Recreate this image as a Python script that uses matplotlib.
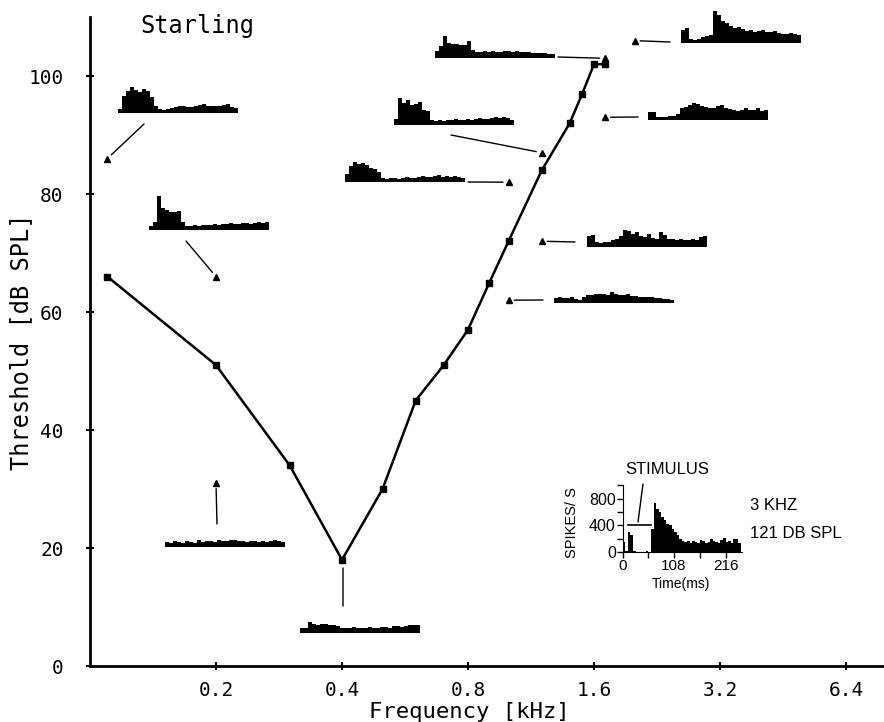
import numpy as np
import matplotlib
matplotlib.use('Agg')
import matplotlib.pyplot as plt

# tuning curve: threshold vs. frequency
freq = [0.11, 0.2, 0.3, 0.4, 0.5, 0.6, 0.7, 0.8, 0.9, 1.0, 1.2, 1.4, 1.5, 1.6, 1.7]
thresh = [66, 51, 34, 18, 30, 45, 51, 57, 65, 72, 84, 92, 97, 102, 102]

# stimulus points (triangles) where the PSTHs were recorded
stim_f = [0.11, 0.2, 0.2, 1.0, 1.2, 1.7, 1.2, 1.0, 1.7, 2.0]
stim_db = [86, 66, 31, 82, 87, 103, 72, 62, 93, 106]

xtick_vals = [0.2, 0.4, 0.8, 1.6, 3.2, 6.4]
xtick_labels = ['0.2', '0.4', '0.8', '1.6', '3.2', '6.4']
ytick_vals = [0, 20, 40, 60, 80, 100]

# small PSTHs (30 bins each, arbitrary rate units)
psth_a = [4, 17, 22, 26, 23, 21, 24, 22, 16, 7, 4, 3, 4, 5, 6, 7, 7, 6, 6, 7, 8, 9, 7, 7, 7, 7, 8, 9, 6, 5]
psth_b = [4, 8, 34, 22, 20, 18, 18, 19, 8, 4, 4, 5, 4, 5, 5, 5, 6, 5, 6, 6, 7, 6, 6, 7, 7, 6, 7, 8, 7, 8]
psth_c = [5, 4, 6, 5, 4, 6, 5, 4, 7, 5, 6, 6, 5, 7, 6, 6, 7, 7, 6, 6, 5, 6, 6, 5, 6, 5, 6, 7, 6, 5]
psth_d = [5, 5, 11, 9, 8, 9, 9, 8, 8, 7, 5, 5, 5, 6, 5, 5, 5, 6, 5, 5, 6, 6, 5, 7, 7, 6, 7, 8, 8, 8]
psth_e = [8, 16, 20, 18, 19, 17, 14, 13, 10, 4, 3, 4, 4, 3, 4, 5, 4, 4, 5, 6, 5, 5, 6, 7, 5, 6, 5, 6, 5, 4]
psth_f = [6, 27, 22, 25, 20, 21, 23, 15, 14, 5, 4, 5, 4, 5, 5, 6, 5, 5, 6, 5, 6, 7, 6, 6, 7, 8, 7, 8, 7, 5]
psth_g = [7, 12, 22, 15, 14, 14, 13, 13, 17, 8, 6, 6, 7, 6, 7, 6, 6, 7, 7, 6, 7, 6, 6, 6, 5, 5, 5, 5, 4, 4]
psth_h = [11, 12, 5, 4, 5, 5, 7, 8, 11, 17, 16, 13, 15, 11, 10, 13, 9, 8, 15, 12, 8, 8, 7, 8, 7, 7, 8, 7, 10, 11]
psth_i = [5, 6, 5, 5, 6, 4, 3, 6, 8, 8, 9, 9, 9, 8, 11, 9, 8, 8, 9, 7, 7, 6, 6, 6, 6, 5, 5, 4, 4, 3]
psth_j = [8, 8, 3, 3, 3, 4, 4, 6, 12, 13, 15, 17, 16, 14, 13, 12, 12, 14, 15, 12, 11, 10, 9, 10, 12, 10, 10, 12, 9, 10]
psth_k = [13, 15, 4, 3, 4, 6, 7, 8, 32, 28, 22, 20, 17, 15, 16, 14, 12, 13, 11, 12, 13, 11, 11, 12, 10, 9, 9, 10, 9, 8]

# example PSTH (3 kHz, 121 dB SPL), 5.4 ms bins
ex_bin = 5.4
ex_rate = [150, 20, 300, 250, 10, 0, 0, 0, 0, 10, 0,
           350, 740, 650, 600, 520, 480, 420, 400, 350, 300, 250, 200, 170, 150,
           160, 140, 170, 150, 130, 180, 160, 140, 150, 200, 170, 150, 130, 180,
           210, 150, 160, 130, 190, 200, 140]
stim_window = [12, 60]
stim_level = 400

W, H = 884, 722
fig = plt.figure(figsize=(W / 100, H / 100), dpi=100)
mono = 'DejaVu Sans Mono'
sans = 'Liberation Sans'

ax = fig.add_axes([90 / W, 56 / H, 794 / W, 649 / H])
ax.set_xscale('log', base=2)
ax.set_xlim(0.1, 0.1 * 2 ** (794 / 126))
ax.set_ylim(0, 110)
ax.plot(freq, thresh, color='k', lw=1.8, marker='s', ms=4)
ax.plot(stim_f, stim_db, ls='none', marker='^', ms=5, color='k')

ax.set_xticks(xtick_vals)
ax.set_xticklabels(xtick_labels, family=mono, fontsize=14)
ax.xaxis.set_minor_locator(matplotlib.ticker.NullLocator())
ax.set_yticks(ytick_vals)
ax.set_yticklabels([str(v) for v in ytick_vals], family=mono, fontsize=14)
ax.tick_params(direction='inout', length=6, width=1.5)
ax.tick_params(axis='y', pad=16)
ax.tick_params(axis='x', pad=8)
for s in ['top', 'right']:
    ax.spines[s].set_visible(False)
for s in ['left', 'bottom']:
    ax.spines[s].set_linewidth(2)

fig.text(21 / W, 1 - 342 / H, 'Threshold [dB SPL]', rotation=90, ha='center', va='center',
         family=mono, fontsize=17)
fig.text(469 / W, 1 - 712 / H, 'Frequency [kHz]', ha='center', va='center',
         family=mono, fontsize=16)
fig.text(140 / W, 1 - 26 / H, 'Starling', ha='left', va='center', family=mono, fontsize=17)

# small PSTH placement: (data, left px, baseline px)
panels = [(psth_a, 118, 113), (psth_b, 149, 230), (psth_c, 165, 547), (psth_d, 300, 633),
          (psth_e, 345, 182), (psth_f, 394, 125), (psth_g, 435, 58), (psth_h, 587, 247),
          (psth_i, 554, 303), (psth_j, 648, 120), (psth_k, 681, 43)]
for vals, x0, yb in panels:
    pa = fig.add_axes([x0 / W, (H - yb) / H, 120 / W, 40 / H])
    pa.bar(np.arange(len(vals)), vals, width=1.0, align='edge', color='k', lw=0)
    pa.set_xlim(0, len(vals))
    pa.set_ylim(0, 40)
    pa.axis('off')

# leader lines from PSTHs to their stimulus points (start in figure pixels)
leaders = [((144, 124), 0), ((186, 241), 1), ((217, 524), 2), ((468, 182), 3),
           ((451, 135), 4), ((558, 57), 5), ((575, 242), 6), ((543, 300), 7),
           ((638, 117), 8), ((670, 42), 9)]
for (px, py), k in leaders:
    ax.annotate('', xy=(stim_f[k], stim_db[k]), xycoords='data',
                xytext=(px, H - py), textcoords='figure pixels',
                arrowprops=dict(arrowstyle='-', lw=1, color='k', shrinkA=0, shrinkB=4))
ax.annotate('', xy=(343, H - 568), xycoords='figure pixels',
            xytext=(343, H - 606), textcoords='figure pixels',
            arrowprops=dict(arrowstyle='-', lw=1, color='k', shrinkA=0, shrinkB=0))

# example PSTH with axes
ex = fig.add_axes([622.7 / W, (H - 552) / H, 119.5 / W, 66.7 / H])
t = np.arange(len(ex_rate)) * ex_bin
ex.bar(t, ex_rate, width=ex_bin, align='edge', color='k', lw=0)
ex.plot(stim_window, [stim_level, stim_level], color='k', lw=1.2)
ex.set_xlim(0, 251)
ex.set_ylim(0, 1000)
ex.set_xticks([0, 54, 108, 162, 216])
ex.set_xticklabels(['0', '', '108', '', '216'], family=sans, fontsize=11)
ex.set_yticks([0, 200, 400, 600, 800, 1000])
ex.set_yticklabels(['0', '', '400', '', '800', ''], family=sans, fontsize=11.5)
ex.tick_params(length=4, width=1, pad=1)
for s in ['top', 'right']:
    ex.spines[s].set_visible(False)
fig.text(681 / W, 1 - 584 / H, 'Time(ms)', ha='center', va='center', family=sans, fontsize=10)
fig.text(572 / W, 1 - 523 / H, 'SPIKES/ S', rotation=90, ha='center', va='center',
         family=sans, fontsize=10.5)
fig.text(625 / W, 1 - 469 / H, 'STIMULUS', ha='left', va='center', family=sans, fontsize=12)
fig.text(750 / W, 1 - 506 / H, '3 KHZ', ha='left', va='center', family=sans, fontsize=12)
fig.text(750 / W, 1 - 534 / H, '121 DB SPL', ha='left', va='center', family=sans, fontsize=12)
ex.annotate('', xy=(643, H - 484), xycoords='figure pixels',
            xytext=(638, H - 522), textcoords='figure pixels',
            arrowprops=dict(arrowstyle='-', lw=1, color='k', shrinkA=0, shrinkB=0))

fig.savefig('out.png', dpi=100)
